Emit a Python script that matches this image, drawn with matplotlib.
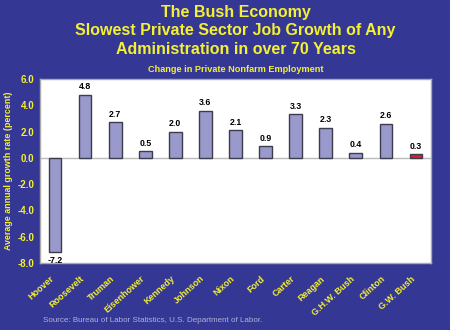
import matplotlib
matplotlib.use("Agg")
import matplotlib.pyplot as plt
from matplotlib.transforms import ScaledTranslation

presidents = ["Hoover", "Roosevelt", "Truman", "Eisenhower", "Kennedy", "Johnson",
              "Nixon", "Ford", "Carter", "Reagan", "G.H.W. Bush", "Clinton", "G.W. Bush"]
growth = [-7.2, 4.8, 2.7, 0.5, 2.0, 3.6, 2.1, 0.9, 3.3, 2.3, 0.4, 2.6, 0.3]
yticks = [6.0, 4.0, 2.0, 0.0, -2.0, -4.0, -6.0, -8.0]

bg = "#343894"
yellow = "#f5f032"
bar_color = "#9999cc"
highlight = "#dd1f26"

plt.rcParams["font.family"] = ["Liberation Sans", "DejaVu Sans"]

fig = plt.figure(figsize=(4.5, 3.3), dpi=100, facecolor=bg)
ax = fig.add_axes([40 / 450, 1 - 263 / 330, 391 / 450, 184 / 330])
ax.set_facecolor("white")

colors = [bar_color] * (len(presidents) - 1) + [highlight]
x = list(range(len(presidents)))
ax.bar(x, growth, width=0.42, color=colors, edgecolor="#3c3c4c", linewidth=1.0, zorder=3)
ax.axhline(0, color="#bbbbbb", linewidth=1.0, zorder=2)

for xi, v in zip(x, growth):
    off = 0.25 if v >= 0 else -0.25
    ax.text(xi, v + off, f"{v:.1f}", ha="center", va="bottom" if v >= 0 else "top",
            fontsize=6.3, fontweight="bold", color="black", zorder=4)

ax.set_xlim(-0.5, len(presidents) - 0.5)
ax.set_ylim(-8, 6)
ax.set_yticks(yticks)
ax.set_yticklabels([f"{t:.1f}" for t in yticks], color=yellow, fontsize=7, fontweight="bold")
ax.set_xticks(x)
ax.set_xticklabels(presidents, rotation=42, ha="right", rotation_mode="anchor",
                   color=yellow, fontsize=6.5, fontweight="bold")
ax.tick_params(axis="x", length=0, pad=8)
ax.tick_params(axis="y", length=0, pad=4)
shift = ScaledTranslation(-5 / 100, 0, fig.dpi_scale_trans)
for lbl in ax.get_xticklabels():
    lbl.set_transform(lbl.get_transform() + shift)
for s in ax.spines.values():
    s.set_color("#aaaaaa")
    s.set_linewidth(1.0)

ax.set_ylabel("Average annual growth rate (percent)", color=yellow, fontsize=6.4,
              fontweight="bold")
ax.yaxis.set_label_coords(-0.068, 0.5)

cx = 235.5 / 450
fig.text(cx, 1 - 13 / 330, "The Bush Economy", ha="center", va="center",
         color=yellow, fontsize=11.5, fontweight="bold")
fig.text(cx, 1 - 31 / 330, "Slowest Private Sector Job Growth of Any", ha="center", va="center",
         color=yellow, fontsize=11.5, fontweight="bold")
fig.text(cx, 1 - 50 / 330, "Administration in over 70 Years", ha="center", va="center",
         color=yellow, fontsize=11.5, fontweight="bold")
fig.text(cx, 1 - 69 / 330, "Change in Private Nonfarm Employment", ha="center", va="center",
         color=yellow, fontsize=6.6, fontweight="bold")
fig.text(43 / 450, 1 - 320 / 330, "Source: Bureau of Labor Statistics, U.S. Department of Labor.",
         ha="left", va="center", color="#b0b0d8", fontsize=5.75)

fig.savefig("out.png", dpi=100, facecolor=bg)
